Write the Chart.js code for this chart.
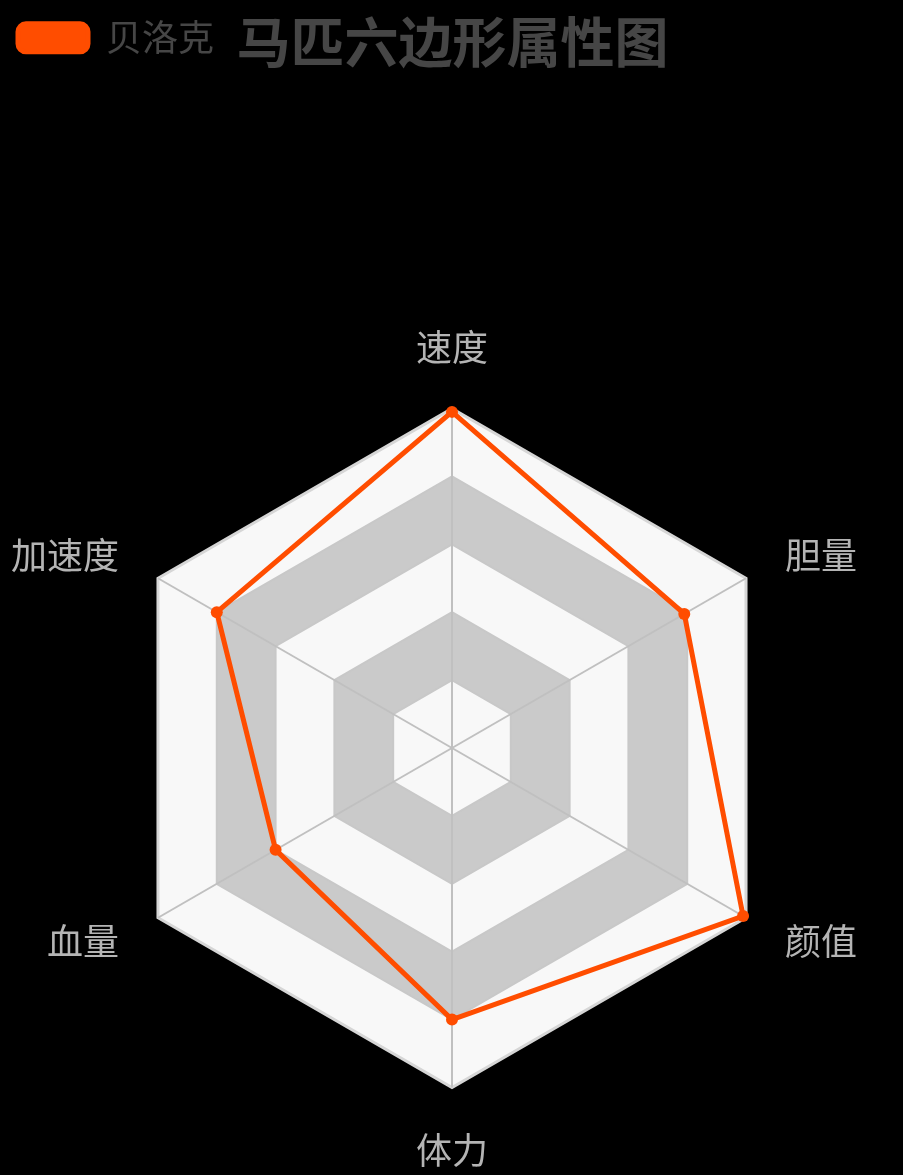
<!DOCTYPE html>
<html>
<head>
<meta charset="utf-8">
<script src="https://cdn.jsdelivr.net/npm/chart.js@4/dist/chart.umd.min.js"></script>
<style>
  html, body { margin: 0; padding: 0; background: #000; }
  #wrap { width: 903px; height: 1175px; }
</style>
</head>
<body>
<div id="wrap"><canvas id="radar"></canvas></div>
<script>
// 马匹属性数据
var attrLabels = ['速度', '胆量', '颜值', '体力', '血量', '加速度'];
var horseName = '贝洛克';
var horseValues = [99, 79, 99, 80, 60, 80];
var ringSteps = [0, 20, 40, 60, 80, 100];

var FONT = '"Noto Sans CJK SC", "Noto Sans", sans-serif';

// 隔圈填充背景（浅/深交替）
var bandFill = {
    id: 'bandFill',
    beforeDraw: function(chart) {
        var scale = chart.scales.r;
        var ctx = chart.ctx;
        var n = attrLabels.length;
        ctx.save();
        for (var k = ringSteps.length - 1; k > 0; k--) {
            ctx.beginPath();
            for (var i = 0; i < n; i++) {
                var p = scale.getPointPositionForValue(i, ringSteps[k]);
                if (i === 0) ctx.moveTo(p.x, p.y); else ctx.lineTo(p.x, p.y);
            }
            ctx.closePath();
            ctx.fillStyle = (k % 2 === 1) ? '#f8f8f8' : '#cacaca';
            ctx.fill();
        }
        ctx.restore();
    }
};

new Chart(document.getElementById('radar'), {
    type: 'radar',
    data: {
        labels: attrLabels,
        datasets: [{
            label: horseName,
            data: horseValues,
            borderColor: '#ff4d00',
            backgroundColor: '#ff4d00',
            borderWidth: 5,
            pointRadius: 6,
            pointBackgroundColor: '#ff4d00',
            pointBorderWidth: 0,
            fill: false
        }]
    },
    options: {
        responsive: true,
        maintainAspectRatio: false,
        animation: false,
        layout: { padding: { top: 0, left: 11, right: 9, bottom: 0 } },
        plugins: {
            title: {
                display: true,
                text: '马匹六边形属性图',
                color: '#464646',
                font: { family: FONT, size: 54, weight: 'bold' },
                padding: { top: 10, bottom: -62 },
                weight: 2000
            },
            // 空白副标题，只用来把图往下推
            subtitle: {
                display: true,
                text: '',
                font: { size: 10 },
                padding: { top: 0, bottom: 247 },
                weight: 500
            },
            legend: {
                position: 'top',
                align: 'start',
                weight: 1000,
                labels: {
                    color: '#464646',
                    font: { family: FONT, size: 36 },
                    boxWidth: 70,
                    boxHeight: 28,
                    useBorderRadius: true,
                    borderRadius: 8,
                    padding: 7
                }
            },
            tooltip: { enabled: false }
        },
        scales: {
            r: {
                min: 0,
                max: 100,
                ticks: { display: false, stepSize: 20 },
                grid: {
                    color: function(ctx) { return ctx.tick && ctx.tick.value === 100 ? '#d6d6d6' : '#c8c8c8'; },
                    lineWidth: function(ctx) { return ctx.tick && ctx.tick.value === 100 ? 3 : 2; }
                },
                angleLines: { color: '#c0c0c0', lineWidth: 2 },
                pointLabels: {
                    color: '#b4b4b4',
                    font: { family: FONT, size: 36, lineHeight: 0.05 },
                    // 右侧标签补一个全角空格，让左右留白对称
                    callback: function(label, i) {
                        return (i === 1 || i === 2) ? label + '\u3000' : label;
                    },
                    padding: function(ctx) {
                        if (ctx.index === 0) return 60;
                        if (ctx.index === 3) return 62;
                        return 45;
                    }
                }
            }
        }
    },
    plugins: [bandFill]
});
</script>
</body>
</html>
